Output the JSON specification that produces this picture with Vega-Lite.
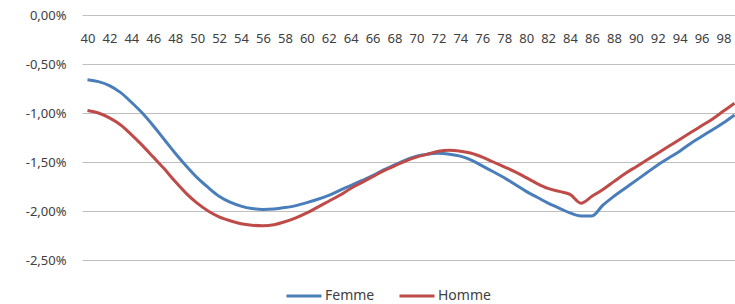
{
  "$schema": "https://vega.github.io/schema/vega-lite/v6.json",
  "width": 658,
  "height": 245,
  "autosize": {"type": "none"},
  "padding": {"left": 82, "top": 15, "right": 0, "bottom": 44},
  "background": "white",
  "config": {
    "view": {"stroke": null},
    "font": "Noto Sans",
    "axis": {"labelColor": "#404040", "labelFont": "Noto Sans", "labelFontSize": 13}
  },
  "data": {"values": [
    {"age":40,"sexe":"Femme","v":-0.66},{"age":41,"sexe":"Femme","v":-0.68},{"age":42,"sexe":"Femme","v":-0.72},{"age":43,"sexe":"Femme","v":-0.79},{"age":44,"sexe":"Femme","v":-0.89},
    {"age":45,"sexe":"Femme","v":-1.00},{"age":46,"sexe":"Femme","v":-1.13},{"age":47,"sexe":"Femme","v":-1.27},{"age":48,"sexe":"Femme","v":-1.41},{"age":49,"sexe":"Femme","v":-1.54},
    {"age":50,"sexe":"Femme","v":-1.66},{"age":51,"sexe":"Femme","v":-1.76},{"age":52,"sexe":"Femme","v":-1.85},{"age":53,"sexe":"Femme","v":-1.91},{"age":54,"sexe":"Femme","v":-1.95},
    {"age":55,"sexe":"Femme","v":-1.975},{"age":56,"sexe":"Femme","v":-1.985},{"age":57,"sexe":"Femme","v":-1.98},{"age":58,"sexe":"Femme","v":-1.965},{"age":59,"sexe":"Femme","v":-1.945},
    {"age":60,"sexe":"Femme","v":-1.915},{"age":61,"sexe":"Femme","v":-1.88},{"age":62,"sexe":"Femme","v":-1.84},{"age":63,"sexe":"Femme","v":-1.79},{"age":64,"sexe":"Femme","v":-1.74},
    {"age":65,"sexe":"Femme","v":-1.69},{"age":66,"sexe":"Femme","v":-1.64},{"age":67,"sexe":"Femme","v":-1.58},{"age":68,"sexe":"Femme","v":-1.53},{"age":69,"sexe":"Femme","v":-1.48},
    {"age":70,"sexe":"Femme","v":-1.44},{"age":71,"sexe":"Femme","v":-1.42},{"age":72,"sexe":"Femme","v":-1.41},{"age":73,"sexe":"Femme","v":-1.42},{"age":74,"sexe":"Femme","v":-1.44},
    {"age":75,"sexe":"Femme","v":-1.48},{"age":76,"sexe":"Femme","v":-1.54},{"age":77,"sexe":"Femme","v":-1.60},{"age":78,"sexe":"Femme","v":-1.66},{"age":79,"sexe":"Femme","v":-1.73},
    {"age":80,"sexe":"Femme","v":-1.80},{"age":81,"sexe":"Femme","v":-1.86},{"age":82,"sexe":"Femme","v":-1.92},{"age":83,"sexe":"Femme","v":-1.97},{"age":84,"sexe":"Femme","v":-2.02},
    {"age":85,"sexe":"Femme","v":-2.05},{"age":86,"sexe":"Femme","v":-2.05},{"age":87,"sexe":"Femme","v":-1.94},{"age":88,"sexe":"Femme","v":-1.85},{"age":89,"sexe":"Femme","v":-1.77},
    {"age":90,"sexe":"Femme","v":-1.69},{"age":91,"sexe":"Femme","v":-1.61},{"age":92,"sexe":"Femme","v":-1.53},{"age":93,"sexe":"Femme","v":-1.46},{"age":94,"sexe":"Femme","v":-1.39},
    {"age":95,"sexe":"Femme","v":-1.31},{"age":96,"sexe":"Femme","v":-1.24},{"age":97,"sexe":"Femme","v":-1.17},{"age":98,"sexe":"Femme","v":-1.10},{"age":99,"sexe":"Femme","v":-1.02},
    {"age":40,"sexe":"Homme","v":-0.975},{"age":41,"sexe":"Homme","v":-1.00},{"age":42,"sexe":"Homme","v":-1.05},{"age":43,"sexe":"Homme","v":-1.12},{"age":44,"sexe":"Homme","v":-1.22},
    {"age":45,"sexe":"Homme","v":-1.33},{"age":46,"sexe":"Homme","v":-1.45},{"age":47,"sexe":"Homme","v":-1.57},{"age":48,"sexe":"Homme","v":-1.70},{"age":49,"sexe":"Homme","v":-1.82},
    {"age":50,"sexe":"Homme","v":-1.92},{"age":51,"sexe":"Homme","v":-2.00},{"age":52,"sexe":"Homme","v":-2.06},{"age":53,"sexe":"Homme","v":-2.10},{"age":54,"sexe":"Homme","v":-2.13},
    {"age":55,"sexe":"Homme","v":-2.145},{"age":56,"sexe":"Homme","v":-2.15},{"age":57,"sexe":"Homme","v":-2.14},{"age":58,"sexe":"Homme","v":-2.11},{"age":59,"sexe":"Homme","v":-2.07},
    {"age":60,"sexe":"Homme","v":-2.02},{"age":61,"sexe":"Homme","v":-1.96},{"age":62,"sexe":"Homme","v":-1.90},{"age":63,"sexe":"Homme","v":-1.84},{"age":64,"sexe":"Homme","v":-1.77},
    {"age":65,"sexe":"Homme","v":-1.71},{"age":66,"sexe":"Homme","v":-1.65},{"age":67,"sexe":"Homme","v":-1.59},{"age":68,"sexe":"Homme","v":-1.54},{"age":69,"sexe":"Homme","v":-1.49},
    {"age":70,"sexe":"Homme","v":-1.45},{"age":71,"sexe":"Homme","v":-1.42},{"age":72,"sexe":"Homme","v":-1.39},{"age":73,"sexe":"Homme","v":-1.38},{"age":74,"sexe":"Homme","v":-1.39},
    {"age":75,"sexe":"Homme","v":-1.41},{"age":76,"sexe":"Homme","v":-1.45},{"age":77,"sexe":"Homme","v":-1.50},{"age":78,"sexe":"Homme","v":-1.55},{"age":79,"sexe":"Homme","v":-1.60},
    {"age":80,"sexe":"Homme","v":-1.66},{"age":81,"sexe":"Homme","v":-1.72},{"age":82,"sexe":"Homme","v":-1.77},{"age":83,"sexe":"Homme","v":-1.80},{"age":84,"sexe":"Homme","v":-1.83},
    {"age":85,"sexe":"Homme","v":-1.92},{"age":86,"sexe":"Homme","v":-1.85},{"age":87,"sexe":"Homme","v":-1.78},{"age":88,"sexe":"Homme","v":-1.70},{"age":89,"sexe":"Homme","v":-1.62},
    {"age":90,"sexe":"Homme","v":-1.55},{"age":91,"sexe":"Homme","v":-1.48},{"age":92,"sexe":"Homme","v":-1.41},{"age":93,"sexe":"Homme","v":-1.34},{"age":94,"sexe":"Homme","v":-1.27},
    {"age":95,"sexe":"Homme","v":-1.20},{"age":96,"sexe":"Homme","v":-1.13},{"age":97,"sexe":"Homme","v":-1.06},{"age":98,"sexe":"Homme","v":-0.98},{"age":99,"sexe":"Homme","v":-0.90}
  ]},
  "mark": {"type": "line", "strokeWidth": 3, "interpolate": "monotone"},
  "encoding": {
    "x": {
      "field": "age", "type": "ordinal", "title": null,
      "scale": {"type": "point", "padding": 0.5},
      "axis": {
        "orient": "top", "domain": false, "ticks": false, "grid": false,
        "values": [40,42,44,46,48,50,52,54,56,58,60,62,64,66,68,70,72,74,76,78,80,82,84,86,88,90,92,94,96,98],
        "labelAngle": 0, "labelBaseline": "middle", "labelPadding": -23,
        "labelOverlap": false, "labelBound": false, "labelFlush": false
      }
    },
    "y": {
      "field": "v", "type": "quantitative", "title": null,
      "scale": {"domain": [-2.5, 0], "nice": false, "zero": false},
      "axis": {
        "values": [0, -0.5, -1, -1.5, -2, -2.5],
        "domain": false, "ticks": false, "grid": true,
        "gridColor": "#BFBFBF", "gridWidth": 1, "gridOpacity": 1,
        "labelPadding": 16,
        "labelExpr": "(datum.value < 0 ? '-' : '') + replace(format(abs(datum.value), '.2f'), '.', ',') + '%'"
      }
    },
    "color": {
      "field": "sexe", "type": "nominal",
      "scale": {"domain": ["Femme", "Homme"], "range": ["#4A7EBB", "#BE4B48"]},
      "legend": {
        "title": null, "orient": "none", "direction": "horizontal",
        "legendX": 203, "legendY": 262,
        "symbolType": "stroke", "symbolSize": 1225, "symbolStrokeWidth": 3,
        "labelFontSize": 14, "labelColor": "#404040", "labelFont": "Noto Sans",
        "labelOffset": 2, "columnPadding": 18
      }
    }
  }
}
